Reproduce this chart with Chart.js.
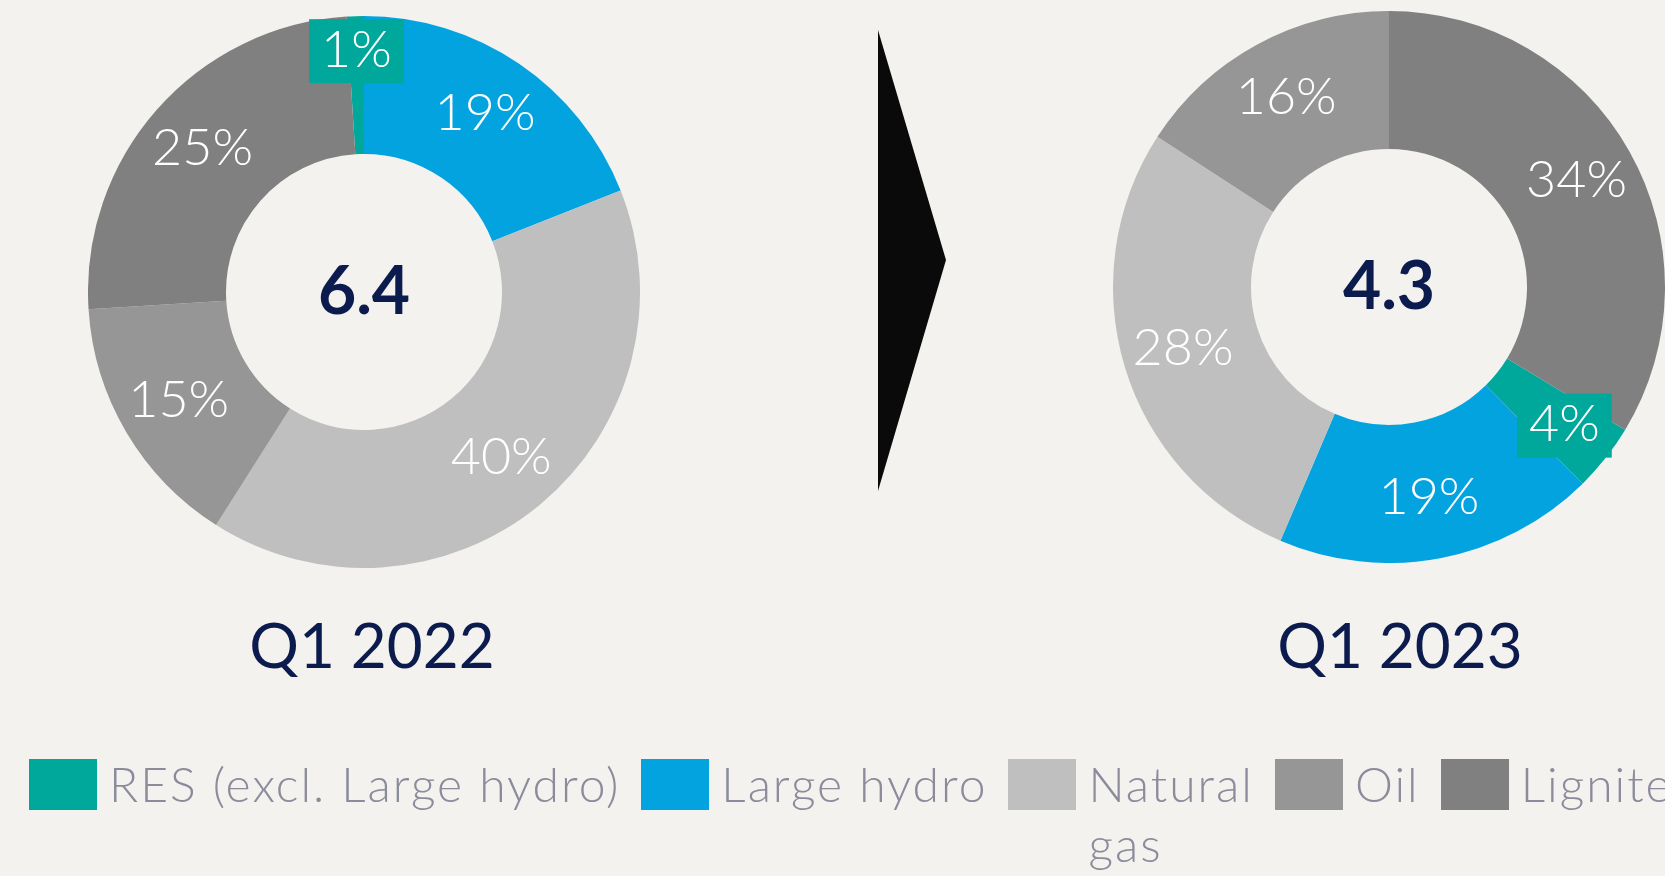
<!DOCTYPE html>
<html>
<head>
<meta charset="utf-8">
<script src="https://cdn.jsdelivr.net/npm/chart.js@4.4.1/dist/chart.umd.min.js"></script>
<style>
  html, body {
    margin: 0;
    padding: 0;
    width: 1665px;
    height: 876px;
    overflow: hidden;
    background: #f3f2ee;
    font-family: Lato, "Open Sans", sans-serif;
  }
  .donut { position: absolute; }
  #mix2022 { left: 88px; top: 16px; }
  #mix2023 { left: 1113px; top: 11px; }
  .period {
    position: absolute;
    top: 613px;
    width: 400px;
    text-align: center;
    font-size: 62px;
    line-height: 62px;
    color: #0c1b4d;
  }
  #arrow { position: absolute; left: 0; top: 0; }
  #legend {
    position: absolute;
    left: 29px;
    top: 754px;
    display: flex;
    gap: 21px;
    white-space: nowrap;
  }
  .item { display: flex; align-items: flex-start; }
  .swatch { width: 68px; height: 51px; margin-top: 5px; margin-right: 12px; flex: none; }
  .label {
    font-size: 48px;
    font-weight: 300;
    letter-spacing: 2px;
    line-height: 60px;
    color: #8b8b9b;
  }
</style>
</head>
<body>
<canvas id="mix2022" class="donut" width="552" height="552"></canvas>
<canvas id="mix2023" class="donut" width="552" height="552"></canvas>
<svg id="arrow" width="1665" height="876"><polygon points="878,30 946,260 878,491" fill="#0a0a0a"/></svg>
<div class="period" id="p0" style="left:172px"></div>
<div class="period" id="p1" style="left:1200px"></div>
<div id="legend"></div>

<script>
document.addEventListener('DOMContentLoaded', function () {
    // generation mix, % share per source
    const categories = ['RES (excl. Large hydro)', 'Large hydro', 'Natural gas', 'Oil', 'Lignite'];
    const share2022 = [1, 19, 40, 15, 25];
    const share2023 = [4, 19, 28, 16, 34];
    const periods = ['Q1 2022', 'Q1 2023'];
    const totals = ['6.4', '4.3'];

    const palette = ['#00a89c', '#03a3e0', '#bfbfbf', '#969696', '#808080'];

    // white % labels on each slice, small slices get a coloured box pushed outwards
    const sliceLabels = {
        id: 'sliceLabels',
        afterDatasetsDraw(chart, args, opts) {
            const ctx = chart.ctx;
            const ds = chart.data.datasets[0];
            const meta = chart.getDatasetMeta(0);
            ctx.save();
            ctx.textAlign = 'center';
            ctx.textBaseline = 'middle';
            ctx.font = '300 52px Lato';
            meta.data.forEach((arc, i) => {
                const p = arc.getProps(['x', 'y', 'startAngle', 'endAngle', 'innerRadius', 'outerRadius'], true);
                const mid = (p.startAngle + p.endAngle) / 2;
                const small = ds.data[i] < 5;
                const r = small ? p.outerRadius * opts.smallRadius
                                : p.innerRadius + (p.outerRadius - p.innerRadius) * 0.56;
                const x = p.x + Math.cos(mid) * r;
                const y = p.y + Math.sin(mid) * r;
                const txt = ds.data[i] + '%';
                if (small) {
                    const w = ctx.measureText(txt).width + 24;
                    ctx.fillStyle = ds.backgroundColor[i];
                    ctx.fillRect(x - w / 2, y - 32, w, 64);
                }
                ctx.fillStyle = '#ffffff';
                ctx.fillText(txt, x, y - 1);
            });
            const c = meta.data[0];
            ctx.font = 'bold 66px Lato';
            ctx.fillStyle = '#0c1b4d';
            ctx.fillText(opts.total, c.x, c.y + 1);
            ctx.restore();
        }
    };

    function drawDonut(canvasId, values, rotation, total, smallRadius) {
        return new Chart(document.getElementById(canvasId).getContext('2d'), {
            type: 'doughnut',
            data: {
                labels: categories,
                datasets: [{
                    data: values,
                    backgroundColor: palette,
                    borderWidth: 0
                }]
            },
            options: {
                responsive: false,
                animation: false,
                cutout: '50%',
                rotation: rotation,
                layout: { padding: 0 },
                plugins: {
                    legend: { display: false },
                    tooltip: { enabled: false },
                    sliceLabels: { total: total, smallRadius: smallRadius }
                }
            },
            plugins: [sliceLabels]
        });
    }

    const sum = arr => arr.reduce((a, b) => a + b, 0);

    // 2022: Large hydro starts at 12 o'clock (RES just before it)
    // 2023: Lignite starts at 12 o'clock, RES follows it
    drawDonut('mix2022', share2022, -360 * share2022[0] / sum(share2022), totals[0], 0.873);
    drawDonut('mix2023', share2023, 360 * share2023[4] / sum(share2023), totals[1], 0.81);

    document.getElementById('p0').textContent = periods[0];
    document.getElementById('p1').textContent = periods[1];

    const legend = document.getElementById('legend');
    categories.forEach((name, i) => {
        const item = document.createElement('div');
        item.className = 'item';
        const sw = document.createElement('div');
        sw.className = 'swatch';
        sw.style.background = palette[i];
        const label = document.createElement('div');
        label.className = 'label';
        label.textContent = name;
        if (name === 'Natural gas') {
            label.style.whiteSpace = 'normal';
            label.style.width = 'min-content';
        }
        item.appendChild(sw);
        item.appendChild(label);
        legend.appendChild(item);
    });
});
</script>
</body>
</html>
